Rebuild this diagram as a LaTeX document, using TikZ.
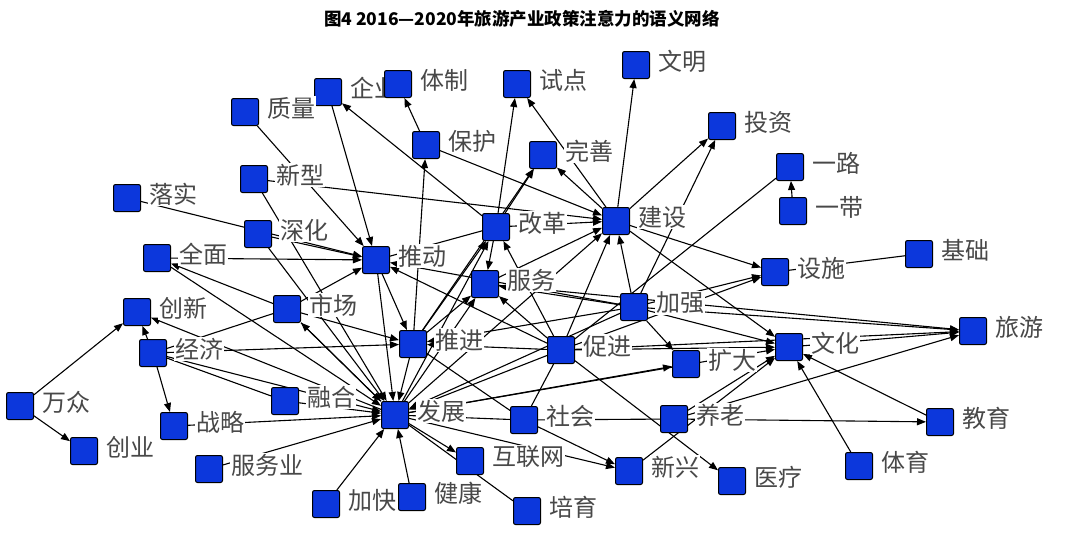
\documentclass[tikz,border=0pt]{standalone}
\usepackage{fontspec}
\setmainfont{Noto Sans CJK SC}
\usepackage{tikz}
\usetikzlibrary{arrows.meta,positioning,backgrounds}
\definecolor{kwblue}{RGB}{12,55,220}
\definecolor{kwgray}{RGB}{72,72,72}
\tikzset{sq/.style={draw=black,fill=kwblue,minimum size=27pt,inner sep=0pt,
 rounded corners=2pt,line width=1pt},
 lbl/.style={fill=white,inner sep=1pt,text=kwgray,font=\fontsize{24}{24}\selectfont,yshift=4pt},
 arr/.style={-{Triangle[length=9pt,width=7pt]},line width=1.1pt},
 ln/.style={line width=1.1pt}}

\begin{document}
\begin{tikzpicture}[x=1pt,y=-1pt,node distance=7pt]
\useasboundingbox (0,0) rectangle (1065,542);
\node[font=\bfseries\fontsize{17.5}{18}\selectfont] (title) at (522,19) {图4 2016—2020年旅游产业政策注意力的语义网络};
% keywords
\node[sq] (qiye) at (328,92) {}; \node[lbl,right=of qiye] (qiye-t) {企业};
\node[sq] (tizhi) at (398,84) {}; \node[lbl,right=of tizhi] (tizhi-t) {体制};
\node[sq] (shidian) at (517,84) {}; \node[lbl,right=of shidian] (shidian-t) {试点};
\node[sq] (wenming) at (636,65) {}; \node[lbl,right=of wenming] (wenming-t) {文明};
\node[sq] (zhiliang) at (245,112) {}; \node[lbl,right=of zhiliang] (zhiliang-t) {质量};
\node[sq] (baohu) at (426,145) {}; \node[lbl,right=of baohu] (baohu-t) {保护};
\node[sq] (wanshan) at (543,155) {}; \node[lbl,right=of wanshan] (wanshan-t) {完善};
\node[sq] (touzi) at (722,126) {}; \node[lbl,right=of touzi] (touzi-t) {投资};
\node[sq] (yilu) at (790,167) {}; \node[lbl,right=of yilu] (yilu-t) {一路};
\node[sq] (yidai) at (793,211) {}; \node[lbl,right=of yidai] (yidai-t) {一带};
\node[sq] (xinxing) at (254,179) {}; \node[lbl,right=of xinxing] (xinxing-t) {新型};
\node[sq] (luoshi) at (127,198) {}; \node[lbl,right=of luoshi] (luoshi-t) {落实};
\node[sq] (shenhua) at (258,234) {}; \node[lbl,right=of shenhua] (shenhua-t) {深化};
\node[sq] (quanmian) at (157,258) {}; \node[lbl,right=of quanmian] (quanmian-t) {全面};
\node[sq] (gaige) at (496,227) {}; \node[lbl,right=of gaige] (gaige-t) {改革};
\node[sq] (jianshe) at (616,221) {}; \node[lbl,right=of jianshe] (jianshe-t) {建设};
\node[sq] (tuidong) at (376,260) {}; \node[lbl,right=of tuidong] (tuidong-t) {推动};
\node[sq] (fuwu) at (485,284) {}; \node[lbl,right=of fuwu] (fuwu-t) {服务};
\node[sq] (jiaqiang) at (634,307) {}; \node[lbl,right=of jiaqiang] (jiaqiang-t) {加强};
\node[sq] (sheshi) at (775,272) {}; \node[lbl,right=of sheshi] (sheshi-t) {设施};
\node[sq] (jichu) at (919,254) {}; \node[lbl,right=of jichu] (jichu-t) {基础};
\node[sq] (lvyou) at (973,331) {}; \node[lbl,right=of lvyou] (lvyou-t) {旅游};
\node[sq] (kuoda) at (686,364) {}; \node[lbl,right=of kuoda] (kuoda-t) {扩大};
\node[sq] (wenhua) at (789,347) {}; \node[lbl,right=of wenhua] (wenhua-t) {文化};
\node[sq] (yanglao) at (674,419) {}; \node[lbl,right=of yanglao] (yanglao-t) {养老};
\node[sq] (jiaoyu) at (940,422) {}; \node[lbl,right=of jiaoyu] (jiaoyu-t) {教育};
\node[sq] (tiyu) at (859,466) {}; \node[lbl,right=of tiyu] (tiyu-t) {体育};
\node[sq] (yiliao) at (732,481) {}; \node[lbl,right=of yiliao] (yiliao-t) {医疗};
\node[sq] (xinxing2) at (629,471) {}; \node[lbl,right=of xinxing2] (xinxing2-t) {新兴};
\node[sq] (shehui) at (524,420) {}; \node[lbl,right=of shehui] (shehui-t) {社会};
\node[sq] (cujin) at (561,350) {}; \node[lbl,right=of cujin] (cujin-t) {促进};
\node[sq] (tuijin) at (413,344) {}; \node[lbl,right=of tuijin] (tuijin-t) {推进};
\node[sq] (fazhan) at (395,415) {}; \node[lbl,right=of fazhan] (fazhan-t) {发展};
\node[sq] (hulianwang) at (470,461) {}; \node[lbl,right=of hulianwang] (hulianwang-t) {互联网};
\node[sq] (jiankang) at (412,497) {}; \node[lbl,right=of jiankang] (jiankang-t) {健康};
\node[sq] (peiyu) at (527,511) {}; \node[lbl,right=of peiyu] (peiyu-t) {培育};
\node[sq] (jiakuai) at (326,504) {}; \node[lbl,right=of jiakuai] (jiakuai-t) {加快};
\node[sq] (fuwuye) at (209,469) {}; \node[lbl,right=of fuwuye] (fuwuye-t) {服务业};
\node[sq] (zhanlve) at (174,426) {}; \node[lbl,right=of zhanlve] (zhanlve-t) {战略};
\node[sq] (chuangye) at (84,451) {}; \node[lbl,right=of chuangye] (chuangye-t) {创业};
\node[sq] (wanzhong) at (20,406) {}; \node[lbl,right=of wanzhong] (wanzhong-t) {万众};
\node[sq] (ronghe) at (285,401) {}; \node[lbl,right=of ronghe] (ronghe-t) {融合};
\node[sq] (jingji) at (153,353) {}; \node[lbl,right=of jingji] (jingji-t) {经济};
\node[sq] (chuangxin) at (137,312) {}; \node[lbl,right=of chuangxin] (chuangxin-t) {创新};
\node[sq] (shichang) at (287,309) {}; \node[lbl,right=of shichang] (shichang-t) {市场};
% links
\begin{scope}[on background layer]
\draw[arr] (qiye)--(tuidong);
\draw[arr] (gaige)--(qiye);
\draw[arr] (baohu)--(tizhi);
\draw[arr] (tuijin)--(baohu);
\draw[arr] (baohu)--(jianshe);
\draw[arr] (gaige)--(shidian);
\draw[arr] (jianshe)--(shidian);
\draw[arr] (gaige)--(wanshan);
\draw[arr] (tuijin)--(wanshan);
\draw[arr] (jianshe)--(wanshan);
\draw[arr] (jianshe)--(wenming);
\draw[arr] (jianshe)--(touzi);
\draw[arr] (jiaqiang)--(touzi);
\draw[arr] (yidai)--(yilu);
\draw[ln] (yilu)--(cujin);
\draw[arr] (jianshe)--(sheshi);
\draw[arr] (jiaqiang)--(sheshi);
\draw[arr] (cujin)--(sheshi);
\draw[ln] (jichu)--(sheshi);
\draw[arr] (zhiliang)--(tuidong);
\draw[arr] (xinxing)--(jianshe);
\draw[arr] (xinxing)--(fazhan);
\draw[arr] (luoshi)--(tuidong);
\draw[arr] (shenhua)--(tuidong);
\draw[arr] (shenhua)--(fazhan);
\draw[arr] (quanmian)--(tuidong);
\draw[arr] (shichang)--(quanmian);
\draw[arr] (quanmian)--(fazhan);
\draw[arr] (jingji)--(chuangxin);
\draw[arr] (jingji)--(zhanlve);
\draw[arr] (wanzhong)--(chuangxin);
\draw[arr] (wanzhong)--(chuangye);
\draw[ln] (jingji)--(shichang);
\draw[arr] (jingji)--(tuijin);
\draw[arr] (jingji)--(fazhan);
\draw[ln] (jingji)--(ronghe);
\draw[arr] (fazhan)--(chuangxin);
\draw[arr] (zhanlve)--(fazhan);
\draw[arr] (fuwuye)--(fazhan);
\draw[arr] (ronghe)--(fazhan);
\draw[arr] (jiakuai)--(fazhan);
\draw[arr] (jiankang)--(fazhan);
\draw[arr] (fazhan)--(hulianwang);
\draw[ln] (fazhan)--(peiyu);
\draw[arr] (fazhan)--(xinxing2);
\draw[ln] (fazhan)--(shehui);
\draw[arr] (fazhan)--(kuoda);
\draw[arr] (fazhan)--(wenhua);
\draw[arr] (fazhan)--(shichang);
\draw[arr] (shichang)--(tuidong);
\draw[arr] (shichang)--(tuijin);
\draw[arr] (shichang)--(fazhan);
\draw[arr] (tuidong)--(fazhan);
\draw[arr] (tuijin)--(fazhan);
\draw[arr] (tuidong)--(tuijin);
\draw[ln] (tuidong)--(gaige);
\draw[arr] (gaige)--(fuwu);
\draw[arr] (gaige)--(jianshe);
\draw[arr] (tuijin)--(gaige);
\draw[arr] (fazhan)--(gaige);
\draw[arr] (cujin)--(gaige);
\draw[arr] (fuwu)--(jianshe);
\draw[arr] (tuijin)--(fuwu);
\draw[arr] (fazhan)--(fuwu);
\draw[arr] (cujin)--(fuwu);
\draw[arr] (jiaqiang)--(fuwu);
\draw[arr] (cujin)--(tuijin);
\draw[arr] (cujin)--(fazhan);
\draw[arr] (cujin)--(tuidong);
\draw[arr] (jiaqiang)--(tuidong);
\draw[arr] (jiaqiang)--(tuijin);
\draw[arr] (jiaqiang)--(fazhan);
\draw[arr] (cujin)--(jianshe);
\draw[arr] (jiaqiang)--(jianshe);
\draw[arr] (fazhan)--(jianshe);
\draw[arr] (jiaqiang)--(kuoda);
\draw[arr] (jiaqiang)--(wenhua);
\draw[arr] (jiaqiang)--(lvyou);
\draw[arr] (cujin)--(lvyou);
\draw[arr] (fuwu)--(lvyou);
\draw[arr] (jianshe)--(wenhua);
\draw[arr] (cujin)--(wenhua);
\draw[arr] (wenhua)--(lvyou);
\draw[arr] (yanglao)--(lvyou);
\draw[arr] (yanglao)--(jiaoyu);
\draw[arr] (jiaoyu)--(wenhua);
\draw[arr] (tiyu)--(wenhua);
\draw[arr] (yanglao)--(wenhua);
\draw[arr] (xinxing2)--(wenhua);
\draw[ln] (shehui)--(yanglao);
\draw[arr] (shehui)--(xinxing2);
\draw[ln] (cujin)--(shehui);
\draw[ln] (tuijin)--(shehui);
\draw[arr] (cujin)--(yiliao);
\end{scope}
\end{tikzpicture}
\end{document}
